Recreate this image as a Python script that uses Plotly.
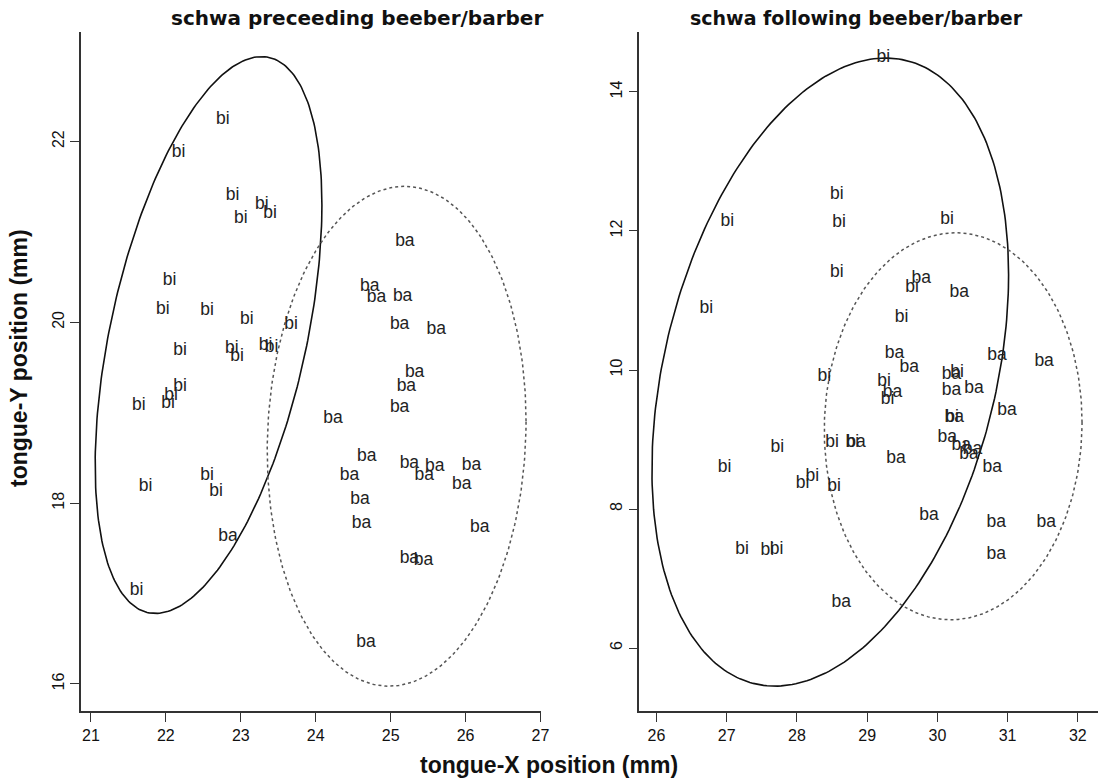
import numpy as np
import plotly.graph_objects as go

W, H = 1107, 783
K = 1107 / 1099.0  # horizontal correction for the page rendering

# ---------------- data ----------------
# Left panel: schwa preceeding beeber/barber
left_bi_x = [22.76, 22.17, 22.89, 23.28, 23.00, 23.39, 22.05, 21.96, 22.55, 23.08, 23.67, 22.19,
             22.88, 22.95, 23.33, 23.41, 22.19, 22.07, 22.03, 21.64, 22.55, 22.67, 21.73, 21.61]
left_bi_y = [22.24, 21.88, 21.40, 21.30, 21.15, 21.20, 20.46, 20.14, 20.13, 20.03, 19.98, 19.69,
             19.71, 19.62, 19.74, 19.72, 19.29, 19.19, 19.10, 19.08, 18.30, 18.13, 18.18, 17.03]
left_ba_x = [22.83, 25.19, 24.72, 24.81, 25.16, 25.12, 25.61, 25.32, 25.21, 25.12, 24.23, 24.68,
             24.45, 25.25, 25.59, 25.45, 26.08, 25.95, 24.59, 24.61, 26.19, 25.25, 25.44, 24.67]
left_ba_y = [17.63, 20.89, 20.39, 20.27, 20.29, 19.98, 19.92, 19.44, 19.29, 19.06, 18.93, 18.51,
             18.31, 18.44, 18.40, 18.31, 18.42, 18.20, 18.04, 17.77, 17.73, 17.39, 17.36, 16.46]

# Right panel: schwa following beeber/barber
right_bi_x = [29.23, 27.01, 28.57, 28.60, 28.57, 26.71, 30.14, 29.64, 29.49, 28.39, 29.24, 29.29,
              30.28, 30.21, 27.72, 28.50, 28.79, 28.08, 28.22, 28.53, 26.97, 27.71, 27.58, 27.22]
right_bi_y = [14.49, 12.14, 12.52, 12.12, 11.40, 10.89, 12.17, 11.19, 10.75, 9.90, 9.84, 9.58,
              9.96, 9.31, 8.89, 8.95, 8.96, 8.37, 8.46, 8.32, 8.60, 7.41, 7.40, 7.41]
right_ba_x = [29.36, 29.39, 29.60, 29.41, 28.63, 29.88, 29.77, 30.31, 30.85, 31.52, 30.20, 30.20,
              30.52, 30.99, 30.24, 30.14, 30.34, 30.50, 30.45, 30.78, 28.84, 30.84, 31.55, 30.84]
right_ba_y = [9.68, 10.24, 10.04, 8.72, 6.66, 7.91, 11.32, 11.11, 10.20, 10.12, 9.93, 9.70,
              9.73, 9.41, 9.31, 9.02, 8.91, 8.86, 8.78, 8.59, 8.96, 7.81, 7.80, 7.34]

# Ellipses: centre x, centre y, half-width x, half-height y, correlation
left_bi_ellipse = [22.57, 19.86, 1.513, 3.08, 0.467]
left_ba_ellipse = [25.08, 18.74, 1.727, 2.765, 0.06]
right_bi_ellipse = [28.475, 9.97, 2.539, 4.518, 0.31]
right_ba_ellipse = [30.225, 9.19, 1.835, 2.784, 0.02]

left_xticks = [21, 22, 23, 24, 25, 26, 27]
left_yticks = [16, 18, 20, 22]
right_xticks = [26, 27, 28, 29, 30, 31, 32]
right_yticks = [6, 8, 10, 12, 14]

titles = ["schwa preceeding beeber/barber", "schwa following beeber/barber"]
xlabel = "tongue-X position (mm)"
ylabel = "tongue-Y position (mm)"


def ellipse(params):
    cx, cy, sx, sy, r = params
    t = np.linspace(0, 2 * np.pi, 300)
    x = cx + sx * np.cos(t)
    y = cy + sy * (r * np.cos(t) + np.sqrt(1 - r * r) * np.sin(t))
    return x, y


fig = go.Figure()
label_font = dict(family="Liberation Sans, Arial, sans-serif", size=17.5, color="#222")

panels = [
    ("x", "y", left_bi_x, left_bi_y, left_ba_x, left_ba_y, left_bi_ellipse, left_ba_ellipse),
    ("x2", "y2", right_bi_x, right_bi_y, right_ba_x, right_ba_y, right_bi_ellipse, right_ba_ellipse),
]
for xa, ya, bx, by, ax_, ay_, e_bi, e_ba in panels:
    ex, ey = ellipse(e_bi)
    fig.add_trace(go.Scatter(x=ex, y=ey, mode="lines", xaxis=xa, yaxis=ya,
                             line=dict(color="#111", width=1.6), showlegend=False, hoverinfo="skip"))
    ex, ey = ellipse(e_ba)
    fig.add_trace(go.Scatter(x=ex, y=ey, mode="lines", xaxis=xa, yaxis=ya,
                             line=dict(color="#555", width=1.5, dash="dot"), showlegend=False, hoverinfo="skip"))
    fig.add_trace(go.Scatter(x=bx, y=by, mode="text", text=["bi"] * len(bx), xaxis=xa, yaxis=ya,
                             textposition="middle center", textfont=label_font, showlegend=False))
    fig.add_trace(go.Scatter(x=ax_, y=ay_, mode="text", text=["ba"] * len(ax_), xaxis=xa, yaxis=ya,
                             textposition="middle center", textfont=label_font, showlegend=False))


def px_x(p):
    return min(1.0, p * K / W)


def px_y(p):
    return (H - p) / H


ydom = [px_y(711), px_y(32)]
axis_common = dict(showline=True, linecolor="#333", linewidth=1.5, ticks="outside", ticklen=9,
                   tickwidth=1.3, tickcolor="#333", showgrid=False, zeroline=False,
                   tickfont=dict(family="Liberation Sans, Arial, sans-serif", size=16, color="#111"))

fig.update_layout(
    width=W, height=H, margin=dict(l=0, r=0, t=0, b=0),
    plot_bgcolor="white", paper_bgcolor="white",
    xaxis=dict(domain=[px_x(81), px_x(541)], range=[20.867, 27.0], tickvals=left_xticks,
               anchor="y", **axis_common),
    yaxis=dict(domain=ydom, range=[15.701, 23.212], tickvals=left_yticks, tickangle=-90,
               anchor="x", **axis_common),
    xaxis2=dict(domain=[px_x(640), 1.0], range=[25.758, 32.287], tickvals=right_xticks,
                anchor="y2", **axis_common),
    yaxis2=dict(domain=ydom, range=[5.094, 14.863], tickvals=right_yticks, tickangle=-90,
                anchor="x2", **axis_common),
)

title_font = dict(family="DejaVu Sans, sans-serif", size=20, color="#111")
title_font2 = dict(family="DejaVu Sans, sans-serif", size=19, color="#111")
axis_title_font = dict(family="Liberation Sans, Arial, sans-serif", size=23, color="#111")
fig.add_annotation(text="<b>%s</b>" % titles[0], x=px_x(357), y=px_y(18), xref="paper", yref="paper",
                   showarrow=False, xanchor="center", yanchor="middle", font=title_font)
fig.add_annotation(text="<b>%s</b>" % titles[1], x=px_x(857), y=px_y(18), xref="paper", yref="paper",
                   showarrow=False, xanchor="center", yanchor="middle", font=title_font2)
fig.add_annotation(text="<b>%s</b>" % xlabel, x=px_x(549), y=px_y(765), xref="paper", yref="paper",
                   showarrow=False, xanchor="center", yanchor="middle", font=axis_title_font)
fig.add_annotation(text="<b>%s</b>" % ylabel, x=px_x(19), y=px_y(358), xref="paper", yref="paper",
                   showarrow=False, xanchor="center", yanchor="middle", textangle=-90, font=axis_title_font)

fig.write_html("out.html", config={"displayModeBar": False},
               post_script="document.body.style.margin='0';document.body.style.overflow='hidden';")
